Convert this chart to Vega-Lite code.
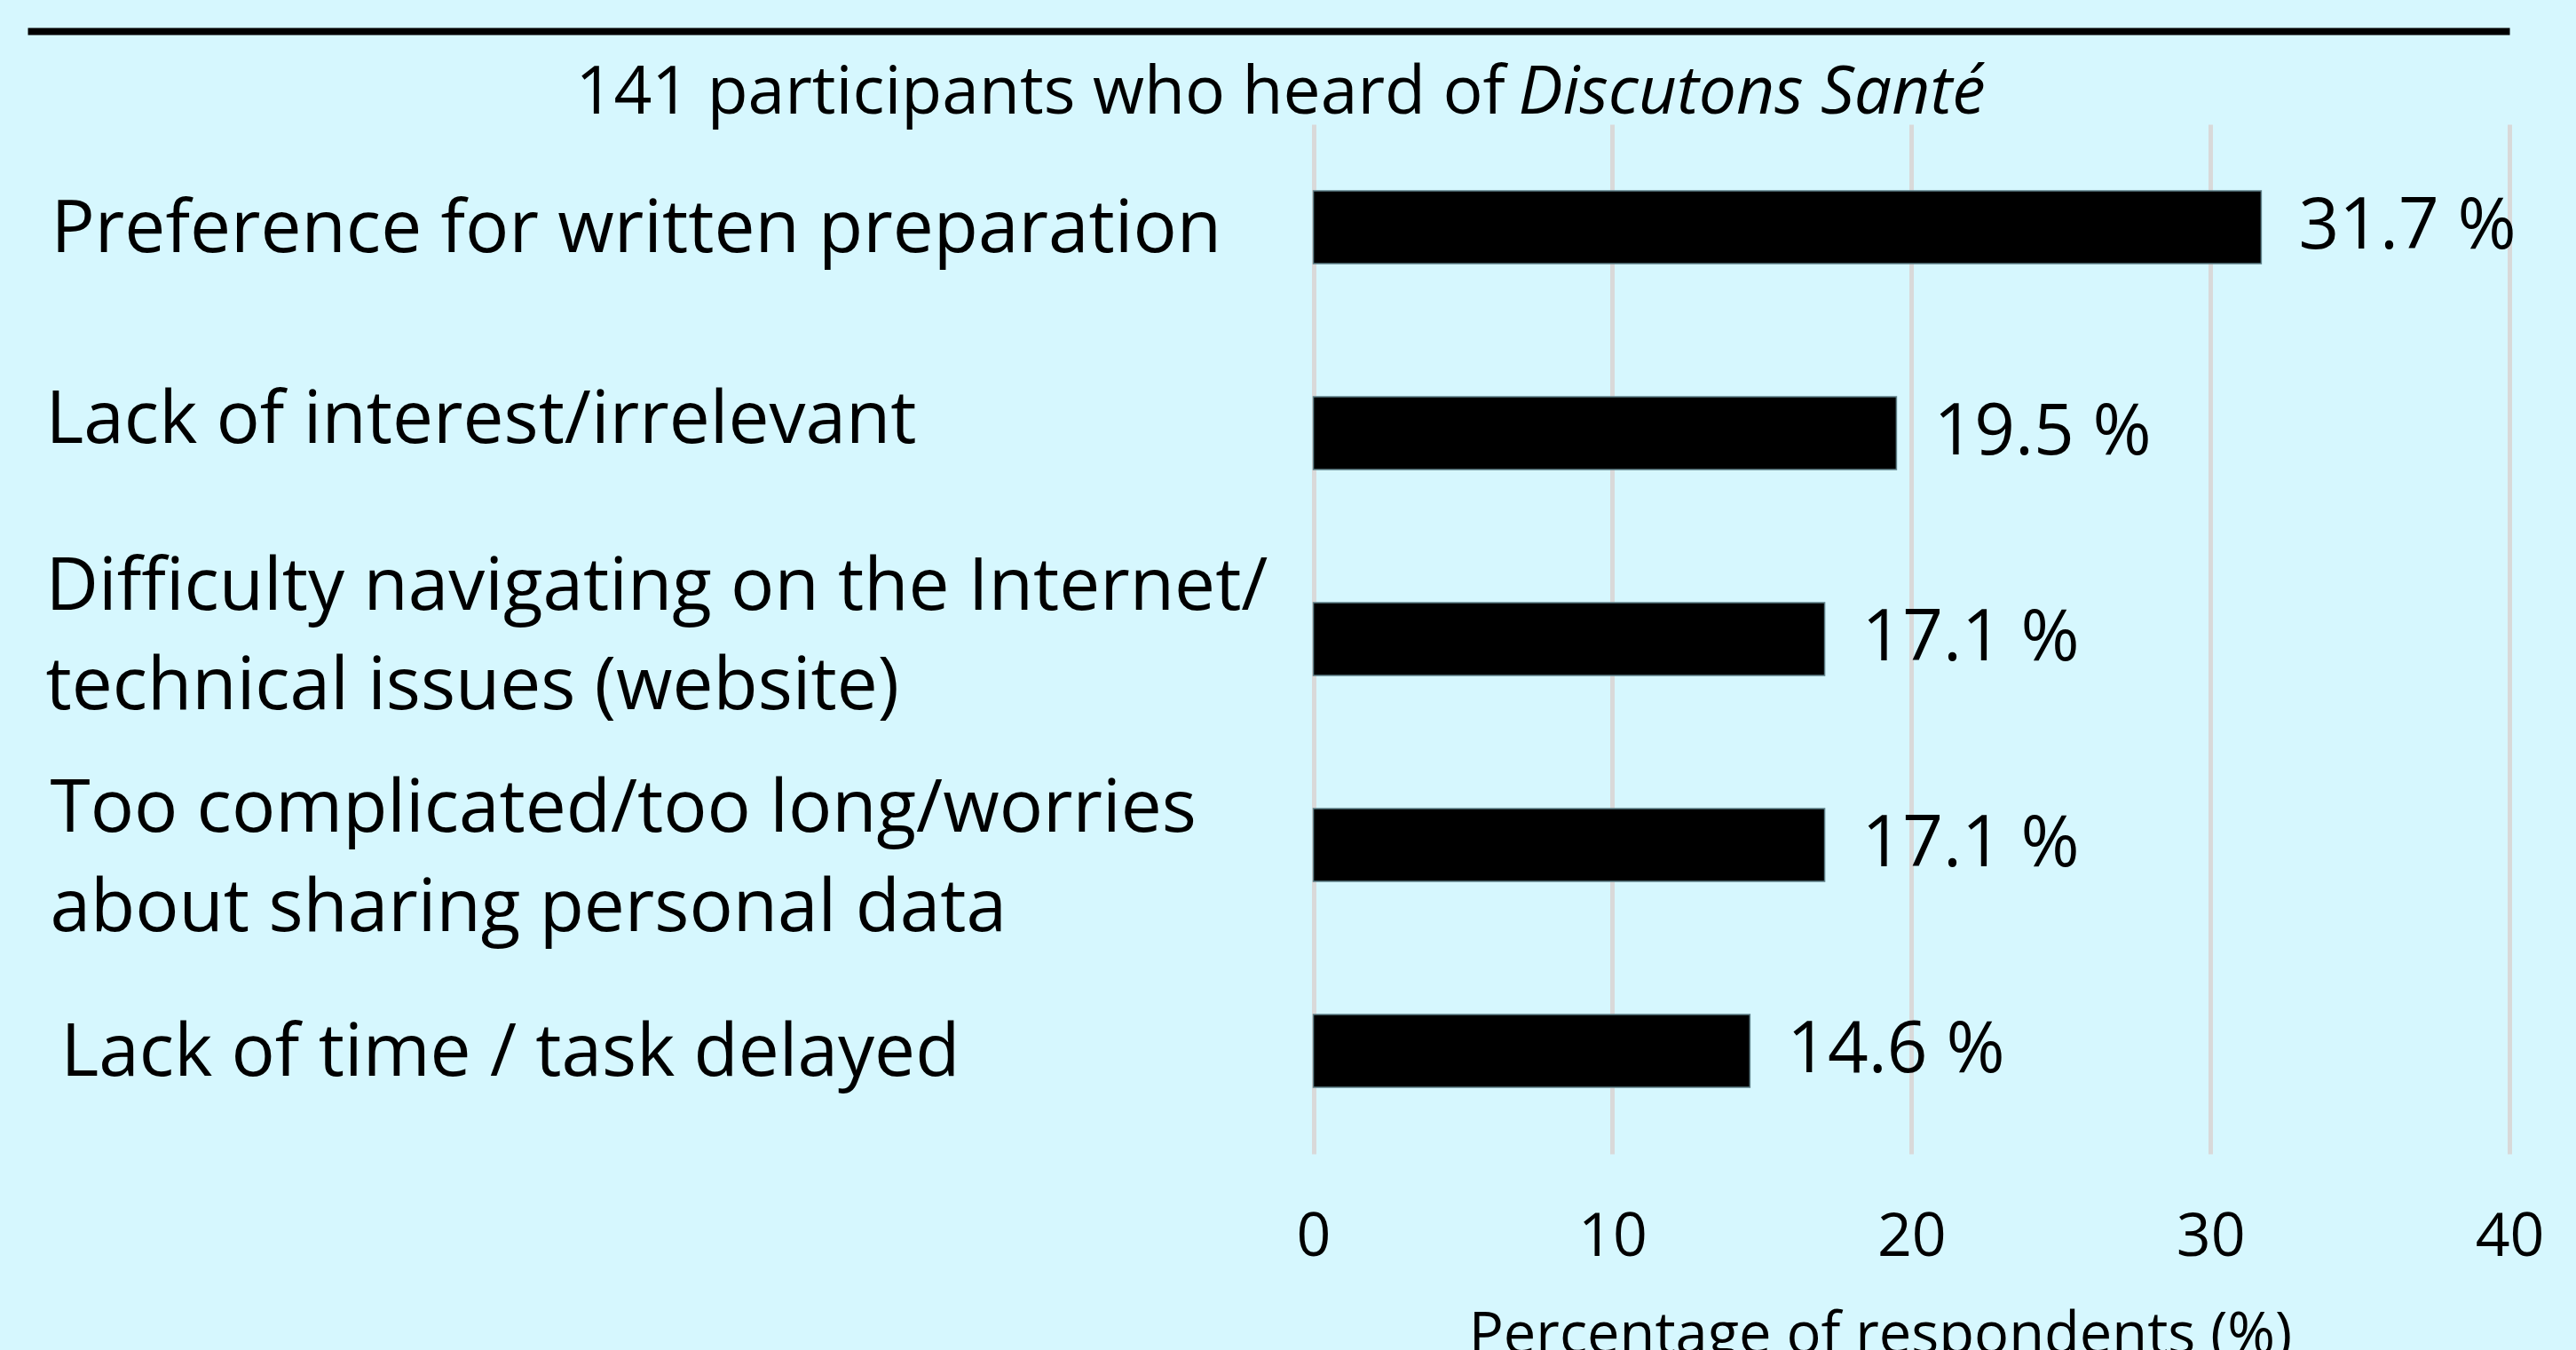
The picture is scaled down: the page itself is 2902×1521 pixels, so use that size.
{
  "$schema": "https://vega.github.io/schema/vega-lite/v6.json",
  "width": 2796,
  "height": 1160,
  "autosize": "none",
  "padding": {"left": 31, "top": 140, "right": 75, "bottom": 221},
  "background": "#d6f7fe",
  "config": {"view": {"stroke": null}, "font": "Open Sans"},
  "title": {"text": "Main barriers", "fontSize": 94, "fontWeight": "bold", "anchor": "middle", "baseline": "alphabetic", "offset": 0, "dy": 58, "color": "black"},
  "data": {"values": [
    {"barrier": "Preference for written preparation", "pct": 31.7, "label": "31.7 %"},
    {"barrier": "Lack of interest/irrelevant", "pct": 19.5, "label": "19.5 %"},
    {"barrier": "Difficulty navigating on the Internet/|technical issues (website)", "pct": 17.1, "label": "17.1 %"},
    {"barrier": "Too complicated/too long/worries|about sharing personal data", "pct": 17.1, "label": "17.1 %"},
    {"barrier": "Lack of time / task delayed", "pct": 14.6, "label": "14.6 %"}
  ]},
  "encoding": {
    "y": {
      "field": "barrier", "type": "nominal", "sort": null,
      "scale": {"paddingInner": 0.647, "paddingOuter": 0.3235},
      "axis": {
        "title": "141 participants who heard of",
        "titleAngle": 0, "titleX": 617, "titleY": -13, "titleAlign": "left", "titleBaseline": "alphabetic",
        "titleFontSize": 75, "titleFontWeight": "normal", "titleColor": "black",
        "domain": false, "ticks": false, "tickSize": 0, "grid": false,
        "labelAlign": "left", "labelBaseline": "middle", "labelFontSize": 82, "labelColor": "black", "labelLimit": 0,
        "labelExpr": "split(datum.label, '|')", "labelLineHeight": 112,
        "labelPadding": {"condition": [
          {"test": "indexof(datum.value, 'Preference') == 0", "value": -26},
          {"test": "indexof(datum.value, 'Too') == 0", "value": -25},
          {"test": "indexof(datum.value, 'Lack of time') == 0", "value": -37}
        ], "value": -20},
        "labelOffset": {"condition": [
          {"test": "indexof(datum.value, 'Lack of interest') == 0", "value": -14},
          {"test": "indexof(datum.value, 'Too') == 0", "value": -40},
          {"test": "indexof(datum.value, 'Difficulty') == 0", "value": -58}
        ], "value": 3}
      }
    }
  },
  "layer": [
    {
      "mark": {"type": "bar", "color": "black", "stroke": "#5f8088", "strokeWidth": 1.5},
      "encoding": {
        "x": {
          "field": "pct", "type": "quantitative",
          "scale": {"domain": [-43, 40], "nice": false},
          "axis": {
            "orient": "bottom", "values": [0, 10, 20, 30, 40],
            "grid": true, "gridColor": "#d9d9d9", "gridWidth": 5,
            "domain": false, "ticks": false,
            "labelFontSize": 68, "labelColor": "black", "labelPadding": 60, "labelFlush": false,
            "title": "Percentage of respondents (%)", "titleFontSize": 65, "titleFontWeight": "normal", "titleColor": "black",
            "titleX": 2087, "titleY": 224, "titleAlign": "center", "titleBaseline": "alphabetic"
          }
        }
      }
    },
    {
      "mark": {"type": "text", "align": "left", "baseline": "middle", "dx": 42, "fontSize": 80, "color": "black"},
      "encoding": {
        "x": {
          "field": "pct", "type": "quantitative",
          "axis": {
            "orient": "top", "grid": false, "labels": false, "ticks": false,
            "domain": true, "domainColor": "black", "domainWidth": 8, "offset": 105,
            "title": "Discutons Santé", "titleFontStyle": "italic", "titleFontWeight": "normal", "titleFontSize": 75, "titleColor": "black",
            "titleX": 1679, "titleY": 92, "titleAlign": "left", "titleBaseline": "alphabetic", "titleAngle": 0
          }
        },
        "text": {"field": "label"}
      }
    }
  ],
  "resolve": {"axis": {"x": "independent"}}
}
